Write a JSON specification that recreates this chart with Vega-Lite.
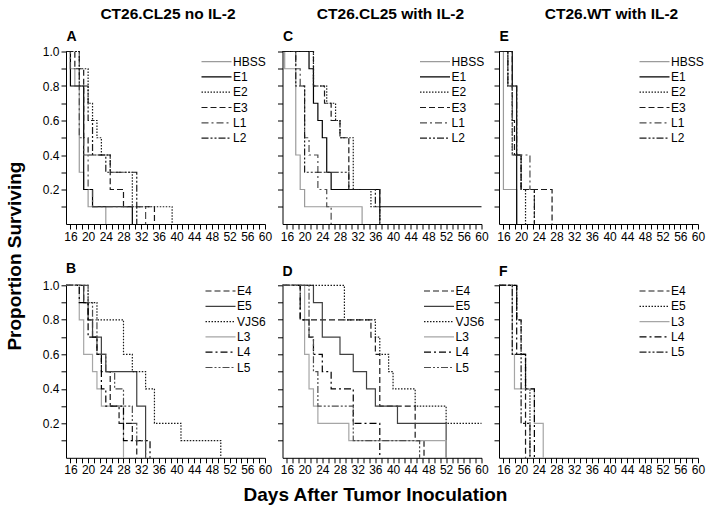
{
  "$schema": "https://vega.github.io/schema/vega-lite/v6.json",
  "background": "white",
  "padding": {"left": 6, "top": 6.5, "right": 5, "bottom": 5},
  "title": {"text": "Proportion Surviving", "orient": "left", "anchor": "middle", "fontSize": 19, "baseline": "alphabetic", "offset": 2},
  "config": {
    "view": {"stroke": null},
    "font": "Liberation Sans",
    "title": {"font": "Liberation Sans", "color": "#000", "fontWeight": "bold"},
    "axis": {"domainColor": "#000", "tickColor": "#000", "labelColor": "#000", "tickSize": 5, "labelFontSize": 12, "labelPadding": 2, "grid": false, "domainWidth": 1, "tickWidth": 1, "labelFont": "Liberation Sans", "titleFont": "Liberation Sans", "titleFontSize": 19, "titleFontWeight": "bold", "titleColor": "#000", "labelOverlap": false, "labelFlush": false, "labelBound": false},
    "legend": {"labelFontSize": 12, "labelColor": "#000", "labelFont": "Liberation Sans", "symbolType": "M-2,0H2", "symbolSize": 225, "symbolStrokeWidth": 1.2, "rowPadding": 0.3, "labelOffset": 8, "padding": 0}
  },
  "datasets": {
    "km": [
      {"panel":"A","group":"HBSS","day":15,"surv":1},{"panel":"A","group":"HBSS","day":16,"surv":0.9},{"panel":"A","group":"HBSS","day":17,"surv":0.8},{"panel":"A","group":"HBSS","day":18,"surv":0.3},{"panel":"A","group":"HBSS","day":19,"surv":0.2},{"panel":"A","group":"HBSS","day":20,"surv":0.1},{"panel":"A","group":"HBSS","day":24,"surv":0},
      {"panel":"A","group":"E1","day":15,"surv":1},{"panel":"A","group":"E1","day":16,"surv":0.8},{"panel":"A","group":"E1","day":19,"surv":0.2},{"panel":"A","group":"E1","day":21,"surv":0.1},{"panel":"A","group":"E1","day":30,"surv":0},
      {"panel":"A","group":"E2","day":15,"surv":1},{"panel":"A","group":"E2","day":18,"surv":0.9},{"panel":"A","group":"E2","day":20,"surv":0.7},{"panel":"A","group":"E2","day":21,"surv":0.6},{"panel":"A","group":"E2","day":22,"surv":0.5},{"panel":"A","group":"E2","day":23,"surv":0.4},{"panel":"A","group":"E2","day":25,"surv":0.3},{"panel":"A","group":"E2","day":30,"surv":0.1},{"panel":"A","group":"E2","day":39,"surv":0},
      {"panel":"A","group":"E3","day":15,"surv":1},{"panel":"A","group":"E3","day":17,"surv":0.9},{"panel":"A","group":"E3","day":19,"surv":0.5},{"panel":"A","group":"E3","day":20,"surv":0.4},{"panel":"A","group":"E3","day":25,"surv":0.2},{"panel":"A","group":"E3","day":28,"surv":0.1},{"panel":"A","group":"E3","day":35,"surv":0},
      {"panel":"A","group":"L1","day":15,"surv":1},{"panel":"A","group":"L1","day":16,"surv":0.9},{"panel":"A","group":"L1","day":18,"surv":0.5},{"panel":"A","group":"L1","day":19,"surv":0.4},{"panel":"A","group":"L1","day":20,"surv":0.2},{"panel":"A","group":"L1","day":21,"surv":0.1},{"panel":"A","group":"L1","day":33,"surv":0},
      {"panel":"A","group":"L2","day":15,"surv":1},{"panel":"A","group":"L2","day":18,"surv":0.8},{"panel":"A","group":"L2","day":20,"surv":0.6},{"panel":"A","group":"L2","day":21,"surv":0.4},{"panel":"A","group":"L2","day":24,"surv":0.3},{"panel":"A","group":"L2","day":31,"surv":0},

      {"panel":"C","group":"HBSS","day":15,"surv":1},{"panel":"C","group":"HBSS","day":15.5,"surv":0.9},{"panel":"C","group":"HBSS","day":18,"surv":0.4},{"panel":"C","group":"HBSS","day":19,"surv":0.2},{"panel":"C","group":"HBSS","day":20,"surv":0.1},{"panel":"C","group":"HBSS","day":33,"surv":0},
      {"panel":"C","group":"E1","day":15,"surv":1},{"panel":"C","group":"E1","day":21,"surv":0.9},{"panel":"C","group":"E1","day":22,"surv":0.7},{"panel":"C","group":"E1","day":23,"surv":0.6},{"panel":"C","group":"E1","day":24,"surv":0.5},{"panel":"C","group":"E1","day":25,"surv":0.3},{"panel":"C","group":"E1","day":26,"surv":0.2},{"panel":"C","group":"E1","day":37,"surv":0.1},{"panel":"C","group":"E1","day":60,"surv":0.1},
      {"panel":"C","group":"E2","day":15,"surv":1},{"panel":"C","group":"E2","day":22,"surv":0.8},{"panel":"C","group":"E2","day":25,"surv":0.7},{"panel":"C","group":"E2","day":27,"surv":0.6},{"panel":"C","group":"E2","day":28,"surv":0.5},{"panel":"C","group":"E2","day":31,"surv":0.2},{"panel":"C","group":"E2","day":35,"surv":0.1},{"panel":"C","group":"E2","day":37,"surv":0},
      {"panel":"C","group":"E3","day":15,"surv":1},{"panel":"C","group":"E3","day":22,"surv":0.8},{"panel":"C","group":"E3","day":24.5,"surv":0.7},{"panel":"C","group":"E3","day":26,"surv":0.6},{"panel":"C","group":"E3","day":28,"surv":0.5},{"panel":"C","group":"E3","day":30,"surv":0.2},{"panel":"C","group":"E3","day":37,"surv":0},
      {"panel":"C","group":"L1","day":15,"surv":1},{"panel":"C","group":"L1","day":18,"surv":0.9},{"panel":"C","group":"L1","day":19,"surv":0.8},{"panel":"C","group":"L1","day":20,"surv":0.5},{"panel":"C","group":"L1","day":21,"surv":0.4},{"panel":"C","group":"L1","day":23,"surv":0.2},{"panel":"C","group":"L1","day":25,"surv":0.1},{"panel":"C","group":"L1","day":26,"surv":0},
      {"panel":"C","group":"L2","day":15,"surv":1},{"panel":"C","group":"L2","day":18,"surv":0.8},{"panel":"C","group":"L2","day":20,"surv":0.3},{"panel":"C","group":"L2","day":30,"surv":0.2},{"panel":"C","group":"L2","day":36,"surv":0.1},{"panel":"C","group":"L2","day":37,"surv":0},

      {"panel":"E","group":"HBSS","day":15,"surv":1},{"panel":"E","group":"HBSS","day":16,"surv":0.2},{"panel":"E","group":"HBSS","day":19,"surv":0},
      {"panel":"E","group":"E1","day":15,"surv":1},{"panel":"E","group":"E1","day":18,"surv":0.8},{"panel":"E","group":"E1","day":19,"surv":0},
      {"panel":"E","group":"E2","day":15,"surv":1},{"panel":"E","group":"E2","day":17,"surv":0.8},{"panel":"E","group":"E2","day":18,"surv":0.4},{"panel":"E","group":"E2","day":20,"surv":0.2},{"panel":"E","group":"E2","day":21,"surv":0},
      {"panel":"E","group":"E3","day":15,"surv":1},{"panel":"E","group":"E3","day":18,"surv":0.6},{"panel":"E","group":"E3","day":18.5,"surv":0.4},{"panel":"E","group":"E3","day":20,"surv":0.2},{"panel":"E","group":"E3","day":27,"surv":0},
      {"panel":"E","group":"L1","day":15,"surv":1},{"panel":"E","group":"L1","day":17,"surv":0.8},{"panel":"E","group":"L1","day":18,"surv":0.4},{"panel":"E","group":"L1","day":22,"surv":0.2},{"panel":"E","group":"L1","day":23,"surv":0},
      {"panel":"E","group":"L2","day":15,"surv":1},{"panel":"E","group":"L2","day":17,"surv":0.8},{"panel":"E","group":"L2","day":19,"surv":0.4},{"panel":"E","group":"L2","day":20,"surv":0.2},{"panel":"E","group":"L2","day":23,"surv":0},

      {"panel":"B","group":"E4","day":15,"surv":1},{"panel":"B","group":"E4","day":19,"surv":0.9},{"panel":"B","group":"E4","day":20,"surv":0.8},{"panel":"B","group":"E4","day":21,"surv":0.7},{"panel":"B","group":"E4","day":22,"surv":0.6},{"panel":"B","group":"E4","day":23,"surv":0.5},{"panel":"B","group":"E4","day":25,"surv":0.3},{"panel":"B","group":"E4","day":27,"surv":0.2},{"panel":"B","group":"E4","day":30,"surv":0.1},{"panel":"B","group":"E4","day":31,"surv":0},
      {"panel":"B","group":"E5","day":15,"surv":1},{"panel":"B","group":"E5","day":19,"surv":0.9},{"panel":"B","group":"E5","day":20,"surv":0.8},{"panel":"B","group":"E5","day":21,"surv":0.7},{"panel":"B","group":"E5","day":23,"surv":0.6},{"panel":"B","group":"E5","day":24,"surv":0.5},{"panel":"B","group":"E5","day":31,"surv":0.3},{"panel":"B","group":"E5","day":33,"surv":0},
      {"panel":"B","group":"VJS6","day":15,"surv":1},{"panel":"B","group":"VJS6","day":20,"surv":0.9},{"panel":"B","group":"VJS6","day":22,"surv":0.8},{"panel":"B","group":"VJS6","day":28,"surv":0.6},{"panel":"B","group":"VJS6","day":30,"surv":0.5},{"panel":"B","group":"VJS6","day":33,"surv":0.4},{"panel":"B","group":"VJS6","day":35,"surv":0.2},{"panel":"B","group":"VJS6","day":41,"surv":0.1},{"panel":"B","group":"VJS6","day":50,"surv":0},
      {"panel":"B","group":"L3","day":15,"surv":1},{"panel":"B","group":"L3","day":18,"surv":0.8},{"panel":"B","group":"L3","day":19,"surv":0.6},{"panel":"B","group":"L3","day":21,"surv":0.5},{"panel":"B","group":"L3","day":22,"surv":0.4},{"panel":"B","group":"L3","day":23,"surv":0.3},{"panel":"B","group":"L3","day":28,"surv":0},
      {"panel":"B","group":"L4","day":15,"surv":1},{"panel":"B","group":"L4","day":18,"surv":0.9},{"panel":"B","group":"L4","day":20,"surv":0.7},{"panel":"B","group":"L4","day":22,"surv":0.6},{"panel":"B","group":"L4","day":23,"surv":0.4},{"panel":"B","group":"L4","day":24,"surv":0.3},{"panel":"B","group":"L4","day":28,"surv":0.1},{"panel":"B","group":"L4","day":34,"surv":0},
      {"panel":"B","group":"L5","day":15,"surv":1},{"panel":"B","group":"L5","day":20,"surv":0.9},{"panel":"B","group":"L5","day":21,"surv":0.8},{"panel":"B","group":"L5","day":22,"surv":0.6},{"panel":"B","group":"L5","day":24,"surv":0.5},{"panel":"B","group":"L5","day":26,"surv":0.4},{"panel":"B","group":"L5","day":28,"surv":0.3},{"panel":"B","group":"L5","day":30,"surv":0.2},{"panel":"B","group":"L5","day":31,"surv":0.1},{"panel":"B","group":"L5","day":33,"surv":0},

      {"panel":"D","group":"E4","day":15,"surv":1},{"panel":"D","group":"E4","day":19,"surv":0.8},{"panel":"D","group":"E4","day":35,"surv":0.7},{"panel":"D","group":"E4","day":36,"surv":0.6},{"panel":"D","group":"E4","day":37,"surv":0.3},{"panel":"D","group":"E4","day":45,"surv":0.1},{"panel":"D","group":"E4","day":47,"surv":0},
      {"panel":"D","group":"E5","day":15,"surv":1},{"panel":"D","group":"E5","day":22,"surv":0.9},{"panel":"D","group":"E5","day":24,"surv":0.7},{"panel":"D","group":"E5","day":28,"surv":0.6},{"panel":"D","group":"E5","day":31,"surv":0.5},{"panel":"D","group":"E5","day":34,"surv":0.4},{"panel":"D","group":"E5","day":36,"surv":0.3},{"panel":"D","group":"E5","day":41,"surv":0.2},{"panel":"D","group":"E5","day":52,"surv":0},
      {"panel":"D","group":"VJS6","day":15,"surv":1},{"panel":"D","group":"VJS6","day":29,"surv":0.8},{"panel":"D","group":"VJS6","day":36,"surv":0.7},{"panel":"D","group":"VJS6","day":37,"surv":0.6},{"panel":"D","group":"VJS6","day":39,"surv":0.5},{"panel":"D","group":"VJS6","day":40,"surv":0.4},{"panel":"D","group":"VJS6","day":45,"surv":0.3},{"panel":"D","group":"VJS6","day":52,"surv":0.2},{"panel":"D","group":"VJS6","day":60,"surv":0.2},
      {"panel":"D","group":"L3","day":15,"surv":1},{"panel":"D","group":"L3","day":20,"surv":0.6},{"panel":"D","group":"L3","day":21,"surv":0.4},{"panel":"D","group":"L3","day":22,"surv":0.3},{"panel":"D","group":"L3","day":23,"surv":0.2},{"panel":"D","group":"L3","day":30,"surv":0.1},{"panel":"D","group":"L3","day":52,"surv":0},
      {"panel":"D","group":"L4","day":15,"surv":1},{"panel":"D","group":"L4","day":19,"surv":0.8},{"panel":"D","group":"L4","day":21,"surv":0.7},{"panel":"D","group":"L4","day":22,"surv":0.6},{"panel":"D","group":"L4","day":24,"surv":0.5},{"panel":"D","group":"L4","day":26,"surv":0.4},{"panel":"D","group":"L4","day":31,"surv":0.2},{"panel":"D","group":"L4","day":37,"surv":0},
      {"panel":"D","group":"L5","day":15,"surv":1},{"panel":"D","group":"L5","day":21,"surv":0.7},{"panel":"D","group":"L5","day":22,"surv":0.5},{"panel":"D","group":"L5","day":23,"surv":0.3},{"panel":"D","group":"L5","day":31,"surv":0.1},{"panel":"D","group":"L5","day":46,"surv":0},

      {"panel":"F","group":"E4","day":15,"surv":1},{"panel":"F","group":"E4","day":19,"surv":0.8},{"panel":"F","group":"E4","day":20,"surv":0.6},{"panel":"F","group":"E4","day":21,"surv":0},
      {"panel":"F","group":"E5","day":15,"surv":1},{"panel":"F","group":"E5","day":19,"surv":0.8},{"panel":"F","group":"E5","day":20,"surv":0.6},{"panel":"F","group":"E5","day":21,"surv":0.4},{"panel":"F","group":"E5","day":22,"surv":0},
      {"panel":"F","group":"L3","day":15,"surv":1},{"panel":"F","group":"L3","day":18,"surv":0.6},{"panel":"F","group":"L3","day":18.5,"surv":0.4},{"panel":"F","group":"L3","day":23,"surv":0.2},{"panel":"F","group":"L3","day":25,"surv":0},
      {"panel":"F","group":"L4","day":15,"surv":1},{"panel":"F","group":"L4","day":19,"surv":0.6},{"panel":"F","group":"L4","day":21,"surv":0.4},{"panel":"F","group":"L4","day":23,"surv":0},
      {"panel":"F","group":"L5","day":15,"surv":1},{"panel":"F","group":"L5","day":18,"surv":0.6},{"panel":"F","group":"L5","day":20,"surv":0.2},{"panel":"F","group":"L5","day":22,"surv":0}
    ]
  },
  "spacing": 18.8,
  "resolve": {"scale": {"color": "independent", "strokeDash": "independent"}, "legend": {"color": "independent", "strokeDash": "independent"}},
  "vconcat": [
    {
      "bounds": "flush",
      "spacing": 17.5,
      "resolve": {"scale": {"color": "independent", "strokeDash": "independent"}, "legend": {"color": "independent", "strokeDash": "independent"}},
      "hconcat": [
        {
          "width": 199, "height": 172.5,
          "title": {"text": "CT26.CL25 no IL-2", "fontSize": 15.5, "anchor": "middle", "frame": "group", "baseline": "alphabetic", "offset": 9.5, "dx": 2.5, "dy": 15.4},
          "data": {"name": "km"},
          "transform": [{"filter": "datum.panel === 'A'"}],
          "mark": {"type": "line", "interpolate": "step-after", "strokeWidth": 1.2},
          "encoding": {
            "x": {"field": "day", "type": "quantitative", "scale": {"domain": [15, 60], "nice": false, "zero": false}, "axis": {"title": null, "values": [16,17.333,18.667,20,21.333,22.667,24,25.333,26.667,28,29.333,30.667,32,33.333,34.667,36,37.333,38.667,40,41.333,42.667,44,45.333,46.667,48,49.333,50.667,52,53.333,54.667,56,57.333,58.667,60], "labelExpr": "abs(datum.value % 4) < 0.01 ? format(datum.value, 'd') : ''"}},
            "y": {"field": "surv", "type": "quantitative", "scale": {"domain": [0, 1], "nice": false}, "axis": {"title": "A", "titleFontSize": 14, "titleAngle": 0, "titleX": 0, "titleY": -11.5, "titleAlign": "left", "titleBaseline": "alphabetic", "values": [0.1,0.2,0.3,0.4,0.5,0.6,0.7,0.8,0.9,1.0], "labelExpr": "round(datum.value*10) % 2 == 0 ? format(datum.value, '.1f') : ''"}},
            "color": {"field": "group", "type": "nominal", "scale": {"domain": ["HBSS","E1","E2","E3","L1","L2"], "range": ["#9b9b9b","#000000","#1a1a1a","#1a1a1a","#4d4d4d","#1a1a1a"]}, "legend": {"title": null, "orient": "none", "legendX": 142, "legendY": 1.6}},
            "strokeDash": {"field": "group", "type": "nominal", "scale": {"domain": ["HBSS","E1","E2","E3","L1","L2"], "range": [[1,0],[1,0],[1.5,1.5],[6,3],[7,3,2,3],[7,2,2,2,2,2]]}, "legend": {"title": null, "orient": "none", "legendX": 142, "legendY": 1.6}}
          }
        },
        {
          "width": 199, "height": 172.5,
          "title": {"text": "CT26.CL25 with IL-2", "fontSize": 15.5, "anchor": "middle", "frame": "group", "baseline": "alphabetic", "offset": 9.5, "dx": 8.5, "dy": 15.4},
          "data": {"name": "km"},
          "transform": [{"filter": "datum.panel === 'C'"}],
          "mark": {"type": "line", "interpolate": "step-after", "strokeWidth": 1.2},
          "encoding": {
            "x": {"field": "day", "type": "quantitative", "scale": {"domain": [15, 60], "nice": false, "zero": false}, "axis": {"title": null, "values": [16,17.333,18.667,20,21.333,22.667,24,25.333,26.667,28,29.333,30.667,32,33.333,34.667,36,37.333,38.667,40,41.333,42.667,44,45.333,46.667,48,49.333,50.667,52,53.333,54.667,56,57.333,58.667,60], "labelExpr": "abs(datum.value % 4) < 0.01 ? format(datum.value, 'd') : ''"}},
            "y": {"field": "surv", "type": "quantitative", "scale": {"domain": [0, 1], "nice": false}, "axis": {"title": "C", "titleFontSize": 14, "titleAngle": 0, "titleX": 0, "titleY": -11.5, "titleAlign": "left", "titleBaseline": "alphabetic", "labels": false, "values": [0.1,0.2,0.3,0.4,0.5,0.6,0.7,0.8,0.9,1.0]}},
            "color": {"field": "group", "type": "nominal", "scale": {"domain": ["HBSS","E1","E2","E3","L1","L2"], "range": ["#9b9b9b","#000000","#1a1a1a","#1a1a1a","#4d4d4d","#1a1a1a"]}, "legend": {"title": null, "orient": "none", "legendX": 144, "legendY": 1.6}},
            "strokeDash": {"field": "group", "type": "nominal", "scale": {"domain": ["HBSS","E1","E2","E3","L1","L2"], "range": [[1,0],[1,0],[1.5,1.5],[6,3],[7,3,2,3],[7,2,2,2,2,2]]}, "legend": {"title": null, "orient": "none", "legendX": 144, "legendY": 1.6}}
          }
        },
        {
          "width": 199, "height": 172.5,
          "title": {"text": "CT26.WT with IL-2", "fontSize": 15.5, "anchor": "middle", "frame": "group", "baseline": "alphabetic", "offset": 9.5, "dx": 13, "dy": 15.4},
          "data": {"name": "km"},
          "transform": [{"filter": "datum.panel === 'E'"}],
          "mark": {"type": "line", "interpolate": "step-after", "strokeWidth": 1.2},
          "encoding": {
            "x": {"field": "day", "type": "quantitative", "scale": {"domain": [15, 60], "nice": false, "zero": false}, "axis": {"title": null, "values": [16,17.333,18.667,20,21.333,22.667,24,25.333,26.667,28,29.333,30.667,32,33.333,34.667,36,37.333,38.667,40,41.333,42.667,44,45.333,46.667,48,49.333,50.667,52,53.333,54.667,56,57.333,58.667,60], "labelExpr": "abs(datum.value % 4) < 0.01 ? format(datum.value, 'd') : ''"}},
            "y": {"field": "surv", "type": "quantitative", "scale": {"domain": [0, 1], "nice": false}, "axis": {"title": "E", "titleFontSize": 14, "titleAngle": 0, "titleX": 0, "titleY": -11.5, "titleAlign": "left", "titleBaseline": "alphabetic", "labels": false, "values": [0.1,0.2,0.3,0.4,0.5,0.6,0.7,0.8,0.9,1.0]}},
            "color": {"field": "group", "type": "nominal", "scale": {"domain": ["HBSS","E1","E2","E3","L1","L2"], "range": ["#9b9b9b","#000000","#1a1a1a","#1a1a1a","#4d4d4d","#1a1a1a"]}, "legend": {"title": null, "orient": "none", "legendX": 147, "legendY": 1.6}},
            "strokeDash": {"field": "group", "type": "nominal", "scale": {"domain": ["HBSS","E1","E2","E3","L1","L2"], "range": [[1,0],[1,0],[1.5,1.5],[6,3],[7,3,2,3],[7,2,2,2,2,2]]}, "legend": {"title": null, "orient": "none", "legendX": 147, "legendY": 1.6}}
          }
        }
      ]
    },
    {
      "bounds": "flush",
      "spacing": 17.5,
      "resolve": {"scale": {"color": "independent", "strokeDash": "independent"}, "legend": {"color": "independent", "strokeDash": "independent"}},
      "hconcat": [
        {
          "width": 199, "height": 172.5,
          "title": {"text": "B", "fontSize": 14, "anchor": "start", "frame": "group", "baseline": "alphabetic", "offset": 9, "dy": 16.5},
          "data": {"name": "km"},
          "transform": [{"filter": "datum.panel === 'B'"}],
          "mark": {"type": "line", "interpolate": "step-after", "strokeWidth": 1.2},
          "encoding": {
            "x": {"field": "day", "type": "quantitative", "scale": {"domain": [15, 60], "nice": false, "zero": false}, "axis": {"title": null, "values": [16,17.333,18.667,20,21.333,22.667,24,25.333,26.667,28,29.333,30.667,32,33.333,34.667,36,37.333,38.667,40,41.333,42.667,44,45.333,46.667,48,49.333,50.667,52,53.333,54.667,56,57.333,58.667,60], "labelExpr": "abs(datum.value % 4) < 0.01 ? format(datum.value, 'd') : ''"}},
            "y": {"field": "surv", "type": "quantitative", "scale": {"domain": [0, 1], "nice": false}, "axis": {"title": null, "values": [0.1,0.2,0.3,0.4,0.5,0.6,0.7,0.8,0.9,1.0], "labelExpr": "round(datum.value*10) % 2 == 0 ? format(datum.value, '.1f') : ''"}},
            "color": {"field": "group", "type": "nominal", "scale": {"domain": ["E4","E5","VJS6","L3","L4","L5"], "range": ["#1a1a1a","#404040","#1a1a1a","#a6a6a6","#000000","#4d4d4d"]}, "legend": {"title": null, "orient": "none", "legendX": 146, "legendY": -2.8}},
            "strokeDash": {"field": "group", "type": "nominal", "scale": {"domain": ["E4","E5","VJS6","L3","L4","L5"], "range": [[6,3],[1,0],[1.5,1.5],[1,0],[7,3,2,3],[7,2,2,2,2,2]]}, "legend": {"title": null, "orient": "none", "legendX": 146, "legendY": -2.8}}
          }
        },
        {
          "width": 199, "height": 172.5,
          "title": {"text": "D", "fontSize": 14, "anchor": "start", "frame": "group", "baseline": "alphabetic", "offset": 9, "dy": 16.5},
          "data": {"name": "km"},
          "transform": [{"filter": "datum.panel === 'D'"}],
          "mark": {"type": "line", "interpolate": "step-after", "strokeWidth": 1.2},
          "encoding": {
            "x": {"field": "day", "type": "quantitative", "scale": {"domain": [15, 60], "nice": false, "zero": false}, "axis": {"title": "Days After Tumor Inoculation", "titleX": 92.5, "titleY": 43, "titleAlign": "center", "titleBaseline": "alphabetic", "values": [16,17.333,18.667,20,21.333,22.667,24,25.333,26.667,28,29.333,30.667,32,33.333,34.667,36,37.333,38.667,40,41.333,42.667,44,45.333,46.667,48,49.333,50.667,52,53.333,54.667,56,57.333,58.667,60], "labelExpr": "abs(datum.value % 4) < 0.01 ? format(datum.value, 'd') : ''"}},
            "y": {"field": "surv", "type": "quantitative", "scale": {"domain": [0, 1], "nice": false}, "axis": {"title": null, "labels": false, "values": [0.1,0.2,0.3,0.4,0.5,0.6,0.7,0.8,0.9,1.0]}},
            "color": {"field": "group", "type": "nominal", "scale": {"domain": ["E4","E5","VJS6","L3","L4","L5"], "range": ["#1a1a1a","#404040","#1a1a1a","#a6a6a6","#000000","#4d4d4d"]}, "legend": {"title": null, "orient": "none", "legendX": 148, "legendY": -2.8}},
            "strokeDash": {"field": "group", "type": "nominal", "scale": {"domain": ["E4","E5","VJS6","L3","L4","L5"], "range": [[6,3],[1,0],[1.5,1.5],[1,0],[7,3,2,3],[7,2,2,2,2,2]]}, "legend": {"title": null, "orient": "none", "legendX": 148, "legendY": -2.8}}
          }
        },
        {
          "width": 199, "height": 172.5,
          "title": {"text": "F", "fontSize": 14, "anchor": "start", "frame": "group", "baseline": "alphabetic", "offset": 9, "dy": 16.5},
          "data": {"name": "km"},
          "transform": [{"filter": "datum.panel === 'F'"}],
          "mark": {"type": "line", "interpolate": "step-after", "strokeWidth": 1.2},
          "encoding": {
            "x": {"field": "day", "type": "quantitative", "scale": {"domain": [15, 60], "nice": false, "zero": false}, "axis": {"title": null, "values": [16,17.333,18.667,20,21.333,22.667,24,25.333,26.667,28,29.333,30.667,32,33.333,34.667,36,37.333,38.667,40,41.333,42.667,44,45.333,46.667,48,49.333,50.667,52,53.333,54.667,56,57.333,58.667,60], "labelExpr": "abs(datum.value % 4) < 0.01 ? format(datum.value, 'd') : ''"}},
            "y": {"field": "surv", "type": "quantitative", "scale": {"domain": [0, 1], "nice": false}, "axis": {"title": null, "labels": false, "values": [0.1,0.2,0.3,0.4,0.5,0.6,0.7,0.8,0.9,1.0]}},
            "color": {"field": "group", "type": "nominal", "scale": {"domain": ["E4","E5","L3","L4","L5"], "range": ["#1a1a1a","#1a1a1a","#a6a6a6","#000000","#1a1a1a"]}, "legend": {"title": null, "orient": "none", "legendX": 147, "legendY": -2.8}},
            "strokeDash": {"field": "group", "type": "nominal", "scale": {"domain": ["E4","E5","L3","L4","L5"], "range": [[6,3],[1.5,1.5],[1,0],[7,3,2,3],[7,2,2,2,2,2]]}, "legend": {"title": null, "orient": "none", "legendX": 147, "legendY": -2.8}}
          }
        }
      ]
    }
  ]
}
